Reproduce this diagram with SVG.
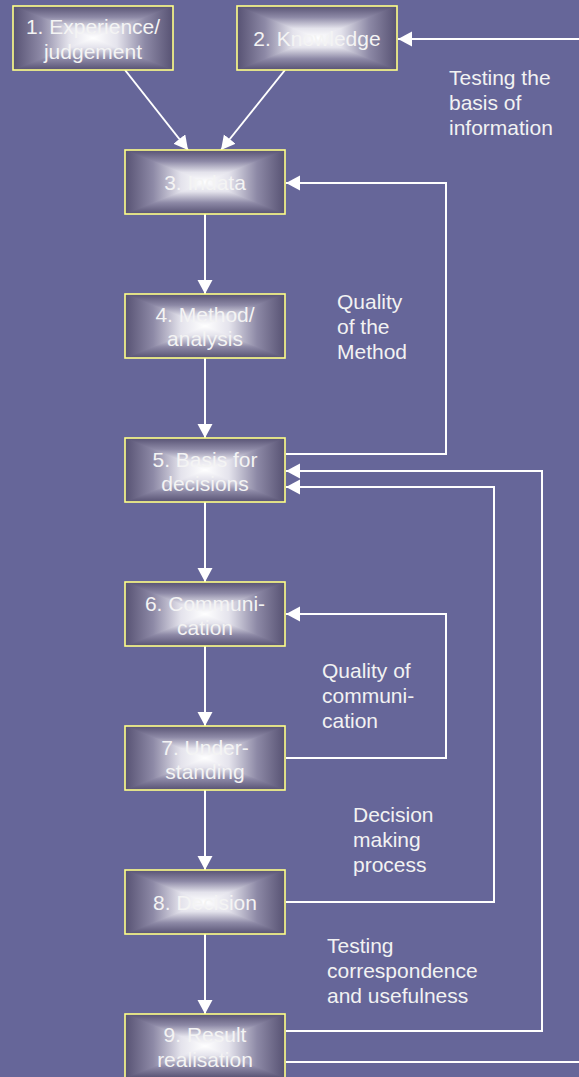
<svg xmlns="http://www.w3.org/2000/svg" xmlns:xlink="http://www.w3.org/1999/xlink" width="579" height="1077" viewBox="0 0 579 1077">
<style>
.lbl{font-family:"Liberation Sans",Arial,sans-serif;font-size:21px;fill:#f2f2f2}
.btxt{font-family:"Liberation Sans",Arial,sans-serif;font-size:21px;fill:#f4f4f4;text-anchor:middle}
.frame{fill:none;stroke:#ffff88;stroke-width:1.6}
.conn{fill:none;stroke:#ffffff;stroke-width:2;marker-end:url(#ah)}
.plain{fill:none;stroke:#ffffff;stroke-width:2}
</style>
<defs>
<linearGradient id="gT" x1="0" y1="0" x2="0" y2="1">
<stop offset="0" stop-color="#575273"/><stop offset="0.35" stop-color="#8d89a6"/><stop offset="0.7" stop-color="#e4e3ec"/><stop offset="1" stop-color="#ffffff"/>
</linearGradient>
<linearGradient id="gB" x1="0" y1="1" x2="0" y2="0">
<stop offset="0" stop-color="#575273"/><stop offset="0.35" stop-color="#8d89a6"/><stop offset="0.7" stop-color="#e4e3ec"/><stop offset="1" stop-color="#ffffff"/>
</linearGradient>
<linearGradient id="gH" x1="0" y1="0" x2="1" y2="0">
<stop offset="0" stop-color="#575273"/><stop offset="0.175" stop-color="#8d89a6"/><stop offset="0.35" stop-color="#e4e3ec"/><stop offset="0.5" stop-color="#ffffff"/><stop offset="0.65" stop-color="#e4e3ec"/><stop offset="0.825" stop-color="#8d89a6"/><stop offset="1" stop-color="#575273"/>
</linearGradient>
<g id="bg">
<rect x="0" y="0" width="160" height="64" fill="url(#gH)"/>
<polygon points="0,0 160,0 80,32" fill="url(#gT)"/>
<polygon points="0,64 160,64 80,32" fill="url(#gB)"/>
<rect x="0" y="0" width="160" height="64" class="frame"/>
</g>
<marker id="ah" markerUnits="userSpaceOnUse" markerWidth="16" markerHeight="16" refX="14" refY="7.5" orient="auto" viewBox="0 0 16 16">
<path d="M0,0 L14,7.5 L0,15 z" fill="#ffffff"/>
</marker>
</defs>
<rect x="0" y="0" width="579" height="1077" fill="#666699"/>

<g id="connectors">
<line class="conn" x1="125" y1="70" x2="188" y2="150"/>
<line class="conn" x1="285" y1="70" x2="221" y2="150"/>
<line class="conn" x1="205" y1="214" x2="205" y2="294"/>
<line class="conn" x1="205" y1="358" x2="205" y2="438"/>
<line class="conn" x1="205" y1="502" x2="205" y2="582"/>
<line class="conn" x1="205" y1="646" x2="205" y2="726"/>
<line class="conn" x1="205" y1="790" x2="205" y2="870"/>
<line class="conn" x1="205" y1="934" x2="205" y2="1014"/>
<line class="conn" x1="579" y1="39" x2="398" y2="39"/>
<polyline class="conn" points="286,454 446,454 446,183 286,183"/>
<polyline class="conn" points="286,1031 542,1031 542,471 286,471"/>
<polyline class="conn" points="286,902 494,902 494,487 286,487"/>
<polyline class="conn" points="286,758 446,758 446,614 286,614"/>
<line class="plain" x1="286" y1="1062" x2="579" y2="1062"/>
</g>

<g id="n1"><use xlink:href="#bg" x="13" y="6"/><text class="btxt" x="93" y="34">1. Experience/</text><text class="btxt" x="93" y="59">judgement</text></g>
<g id="n2"><use xlink:href="#bg" x="237" y="6"/><text class="btxt" x="317" y="46">2. Knowledge</text></g>
<g id="n3"><use xlink:href="#bg" x="125" y="150"/><text class="btxt" x="205" y="190">3. Indata</text></g>
<g id="n4"><use xlink:href="#bg" x="125" y="294"/><text class="btxt" x="205" y="322">4. Method/</text><text class="btxt" x="205" y="346">analysis</text></g>
<g id="n5"><use xlink:href="#bg" x="125" y="438"/><text class="btxt" x="205" y="467">5. Basis for</text><text class="btxt" x="205" y="491">decisions</text></g>
<g id="n6"><use xlink:href="#bg" x="125" y="582"/><text class="btxt" x="205" y="611">6. Communi-</text><text class="btxt" x="205" y="635">cation</text></g>
<g id="n7"><use xlink:href="#bg" x="125" y="726"/><text class="btxt" x="205" y="755">7. Under-</text><text class="btxt" x="205" y="779">standing</text></g>
<g id="n8"><use xlink:href="#bg" x="125" y="870"/><text class="btxt" x="205" y="910">8. Decision</text></g>
<g id="n9"><use xlink:href="#bg" x="125" y="1014"/><text class="btxt" x="205" y="1042">9. Result</text><text class="btxt" x="205" y="1067">realisation</text></g>

<g id="labels">
<text class="lbl" x="449" y="85">Testing the</text>
<text class="lbl" x="449" y="110">basis of</text>
<text class="lbl" x="449" y="135">information</text>
<text class="lbl" x="337" y="309">Quality</text>
<text class="lbl" x="337" y="334">of the</text>
<text class="lbl" x="337" y="359">Method</text>
<text class="lbl" x="322" y="678">Quality of</text>
<text class="lbl" x="322" y="703">communi-</text>
<text class="lbl" x="322" y="728">cation</text>
<text class="lbl" x="353" y="822">Decision</text>
<text class="lbl" x="353" y="847">making</text>
<text class="lbl" x="353" y="872">process</text>
<text class="lbl" x="327" y="953">Testing</text>
<text class="lbl" x="327" y="978">correspondence</text>
<text class="lbl" x="327" y="1003">and usefulness</text>
</g>
</svg>
